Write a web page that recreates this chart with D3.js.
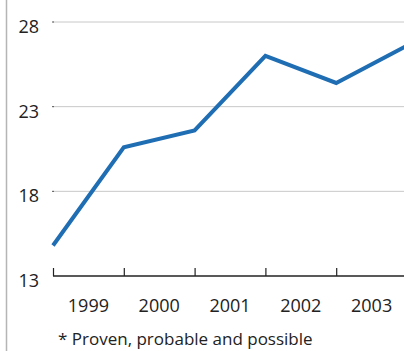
<!DOCTYPE html>
<html><head><meta charset="utf-8">
<script src="https://cdn.jsdelivr.net/npm/d3@7"></script>
<style>html,body{margin:0;padding:0;background:#fff;}svg{display:block;}</style>
</head><body>
<script>
const periods = ["1999","2000","2001","2002","2003","2004"];
const values = [14.8, 20.6, 21.6, 26.0, 24.4, 26.6];
const yearLabels = ["1999","2000","2001","2002","2003"];
const yTicks = [13, 18, 23, 28];
const footnote = "* Proven, probable and possible";

const W = 404, H = 351;
const svg = d3.select("body").append("svg").attr("width", W).attr("height", H);
const font = "'Open Sans', sans-serif";

const x = d3.scaleLinear().domain([0, periods.length - 1]).range([53, 407]);
const y = d3.scaleLinear().domain([13, 28]).range([276, 22]);

// left frame line
svg.append("line").attr("x1", 6.5).attr("x2", 6.5).attr("y1", 0).attr("y2", H)
  .attr("stroke", "#b5b5b5").attr("stroke-width", 1.5);

// gridlines
yTicks.filter(t => t !== 13).forEach(t => {
  svg.append("line").attr("x1", 53).attr("x2", W).attr("y1", y(t)).attr("y2", y(t))
    .attr("stroke", "#c8c8c8").attr("stroke-width", 1);
  svg.append("line").attr("x1", 52).attr("x2", 54).attr("y1", y(t)).attr("y2", y(t))
    .attr("stroke", "#555").attr("stroke-width", 1);
});

// y labels
svg.selectAll("text.ylab").data(yTicks).enter().append("text")
  .attr("class", "ylab").attr("x", 39).attr("y", d => y(d) + 11)
  .attr("text-anchor", "end").attr("font-family", font).attr("font-size", 18)
  .attr("fill", "#222").text(d => d);

// x axis
const xAxis = d3.axisTop(x).tickValues(d3.range(periods.length)).tickSize(8).tickFormat("");
const gx = svg.append("g").attr("transform", `translate(0,${y(13)})`).call(xAxis);
gx.select(".domain").attr("d", `M53,0H${W}`).attr("stroke", "#222").attr("stroke-width", 1.6);
gx.selectAll(".tick line").attr("stroke", "#222").attr("stroke-width", 1.2);

// year labels
svg.selectAll("text.xlab").data(yearLabels).enter().append("text")
  .attr("class", "xlab").attr("x", (d, i) => x(i + 0.5)).attr("y", 312)
  .attr("text-anchor", "middle").attr("font-family", font).attr("font-size", 18)
  .attr("fill", "#222").text(d => d);

// line
const line = d3.line().x((d, i) => x(i)).y(d => y(d));
svg.append("path").datum(values).attr("d", line)
  .attr("fill", "none").attr("stroke", "#1f6db3").attr("stroke-width", 4)
  .attr("stroke-linejoin", "miter");

// footnote
svg.append("text").attr("x", 58).attr("y", 345).attr("font-family", font)
  .attr("font-size", 17).attr("fill", "#222").text(footnote);
</script>
</body></html>
